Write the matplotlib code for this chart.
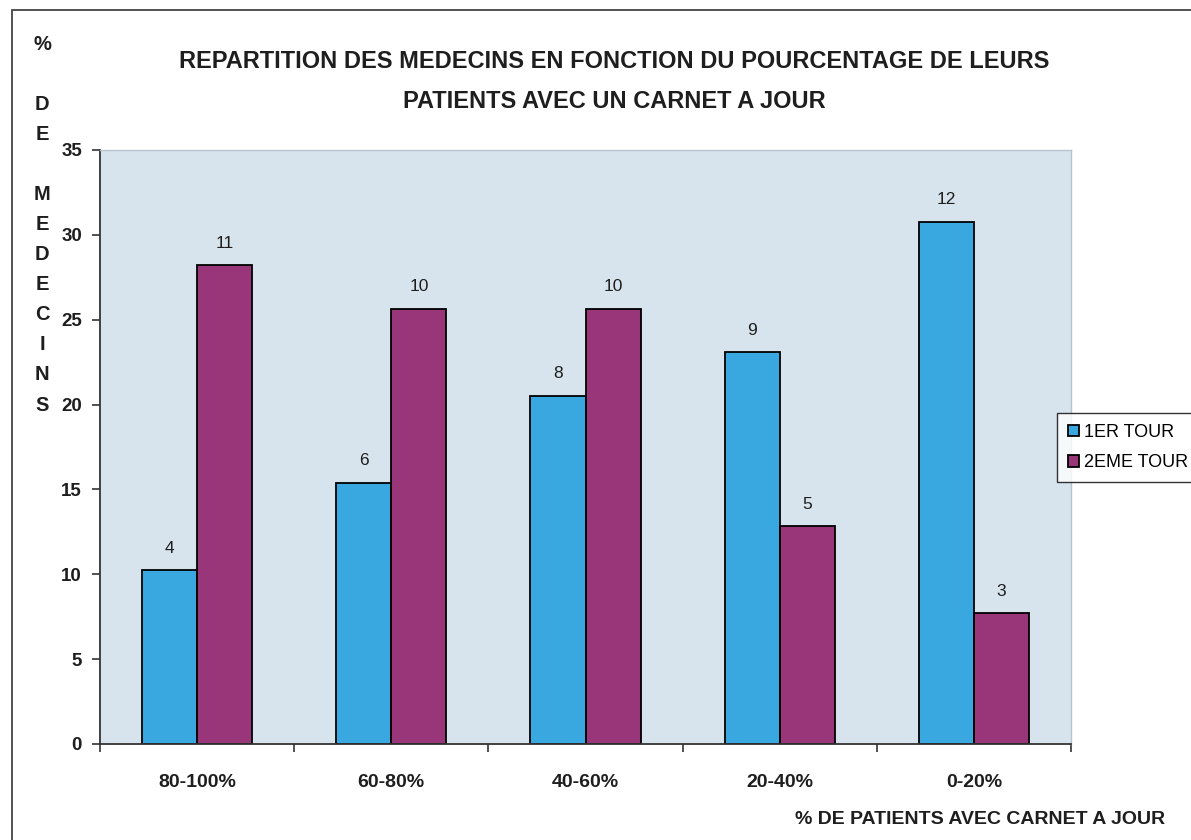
import numpy as np
import matplotlib
matplotlib.use("Agg")
import matplotlib.pyplot as plt
from matplotlib.patches import Rectangle

plt.rcParams['font.family'] = ['Liberation Sans', 'DejaVu Sans']

categories = ['80-100%', '60-80%', '40-60%', '20-40%', '0-20%']
tour1_counts = [4, 6, 8, 9, 12]
tour2_counts = [11, 10, 10, 5, 3]
series_names = ['1ER TOUR', '2EME TOUR']

# pourcentage de medecins par tranche (39 medecins par tour)
tour1_pct = [c / sum(tour1_counts) * 100 for c in tour1_counts]
tour2_pct = [c / sum(tour2_counts) * 100 for c in tour2_counts]

blue = '#3aa8e0'
purple = '#983679'
bg = '#d7e4ed'
txt = '#1e1e1e'

fig = plt.figure(figsize=(11.91, 8.4), dpi=100)
ax = fig.add_axes([100 / 1191, 96 / 840, 971 / 1191, 594 / 840])
ax.set_facecolor(bg)

x = np.arange(len(categories))
w = 0.284
b1 = ax.bar(x - w / 2, tour1_pct, w, color=blue, edgecolor='black', linewidth=1.3, label=series_names[0])
b2 = ax.bar(x + w / 2, tour2_pct, w, color=purple, edgecolor='black', linewidth=1.3, label=series_names[1])

for bars, counts in ((b1, tour1_counts), (b2, tour2_counts)):
    for r, c in zip(bars, counts):
        ax.text(r.get_x() + r.get_width() / 2, r.get_height() + 0.85, str(c),
                ha='center', va='bottom', fontsize=12.5, color=txt)

ax.set_xlim(-0.5, len(categories) - 0.5)
ax.set_ylim(0, 35)
ax.set_yticks(range(0, 36, 5))
ax.set_yticklabels([str(v) for v in range(0, 36, 5)], fontsize=13.5, fontweight='bold', color=txt)
ax.set_xticks(np.arange(-0.5, len(categories), 1))
ax.set_xticklabels([])
ax.tick_params(axis='both', direction='out', length=6, width=1.2, color='#333333', pad=7)
for i, lab in enumerate(categories):
    ax.text(i, -0.065, lab, transform=ax.get_xaxis_transform(), ha='center', va='center',
            fontsize=14, fontweight='bold', color=txt)

for s in ('left', 'bottom'):
    ax.spines[s].set_color('#333333')
    ax.spines[s].set_linewidth(1.3)
for s in ('top', 'right'):
    ax.spines[s].set_color('#b8c4cc')
    ax.spines[s].set_linewidth(1.0)

fig.text(614 / 1191, 1 - 62 / 840, 'REPARTITION DES MEDECINS EN FONCTION DU POURCENTAGE DE LEURS',
         ha='center', va='center', fontsize=17, fontweight='bold', color=txt)
fig.text(614 / 1191, 1 - 101 / 840, 'PATIENTS AVEC UN CARNET A JOUR',
         ha='center', va='center', fontsize=17, fontweight='bold', color=txt)

# titre vertical de l'axe y, lettre par lettre
ylab = ['%', '', 'D', 'E', '', 'M', 'E', 'D', 'E', 'C', 'I', 'N', 'S']
for k, ch in enumerate(ylab):
    if ch:
        fig.text(42 / 1191, 1 - (45 + 30 * k) / 840, ch, ha='center', va='center',
                 fontsize=14.5, fontweight='bold', color=txt)

fig.text(1165 / 1191, 1 - 820 / 840, '% DE PATIENTS AVEC CARNET A JOUR',
         ha='right', va='center', fontsize=14, fontweight='bold', color=txt)

leg = fig.legend(handles=[b1, b2], loc='upper left', bbox_to_anchor=(1057 / 1191, 1 - 413 / 840),
                 fontsize=13, frameon=True, fancybox=False, handlelength=0.6, handleheight=0.6,
                 handletextpad=0.3, borderpad=0.6, labelspacing=0.75, borderaxespad=0)
leg.get_frame().set_edgecolor('black')
leg.get_frame().set_linewidth(1.0)

# cadre exterieur
fig.patches.append(Rectangle((12 / 1191, -0.05), 1.1, 1 - 10 / 840 + 0.05, transform=fig.transFigure,
                             fill=False, edgecolor='#444444', linewidth=1.3))

fig.savefig('out.png', dpi=100)
